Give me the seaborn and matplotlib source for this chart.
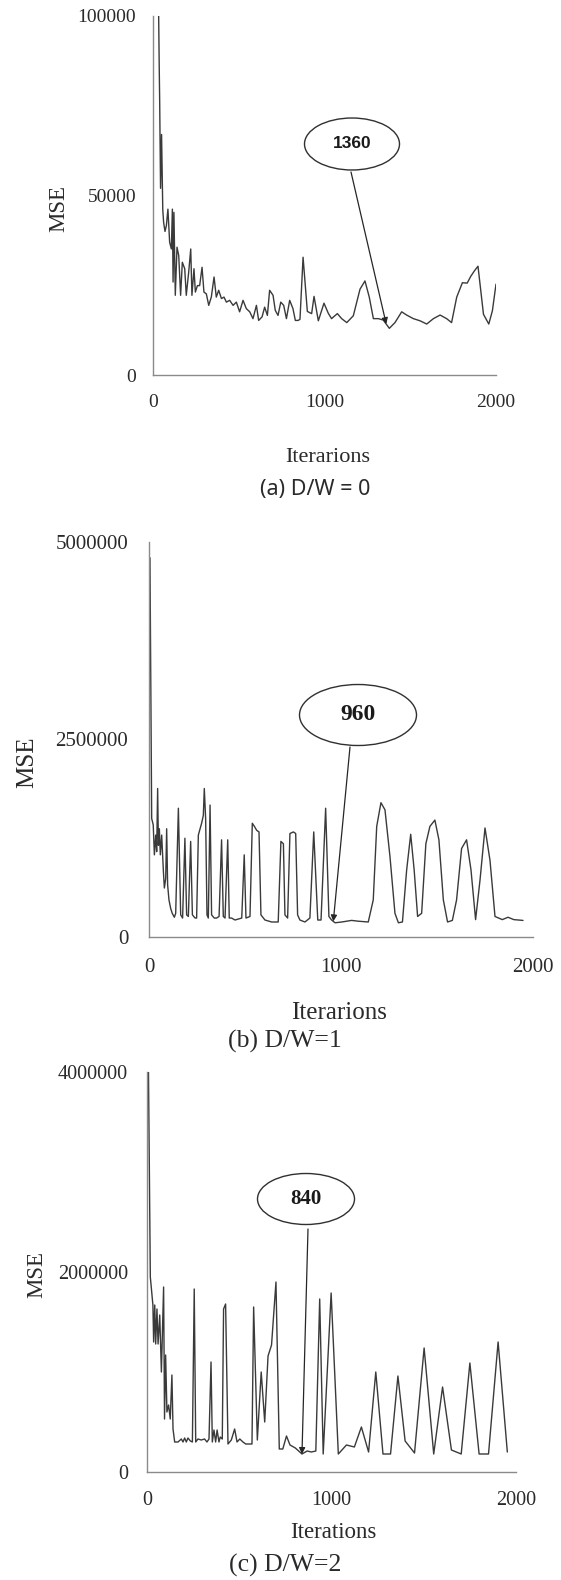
import numpy as np
import pandas as pd
import matplotlib
matplotlib.use("Agg")
import matplotlib.pyplot as plt
from matplotlib.patches import Ellipse
import seaborn as sns

# ---------------- data ----------------
a_iter = [33, 36, 39, 44, 50, 57, 62, 70, 78, 87, 97, 107, 113, 117, 122, 130, 140, 150, 161, 171,
          185, 194, 208, 220, 227, 239, 247, 259, 272, 286, 297, 311, 325, 340, 356, 369, 383, 399, 414, 428,
          447, 467, 486, 505, 525, 544, 564, 583, 603, 616, 636, 651, 667, 680, 700, 713, 729, 745, 762, 778,
          797, 816, 830, 846, 857, 875, 900, 925, 939, 964, 997, 1022, 1041, 1075, 1100, 1130, 1168, 1207, 1236, 1261,
          1285, 1314, 1343, 1378, 1411, 1450, 1479, 1518, 1557, 1596, 1635, 1674, 1712, 1741, 1771, 1804, 1832, 1853, 1874, 1895,
          1927, 1958, 1979, 2000]
a_mse = [100000, 87000, 76000, 52000, 67000, 46000, 42500, 40000, 41600, 46200, 37000, 35100, 46200, 25900, 45300, 22200, 35600, 33300, 22200, 31400,
         29600, 22200, 28600, 35100, 22200, 29600, 23100, 24900, 24900, 30000, 23100, 22600, 19400, 21700, 27300, 21700, 23600, 21300, 21700, 20300,
         20800, 19400, 20300, 17600, 20800, 18500, 17600, 15700, 19400, 15200, 16200, 18900, 16600, 23600, 22200, 18000, 16600, 20300, 19400, 15700,
         20800, 18500, 15200, 15200, 15500, 32800, 17700, 17100, 21900, 15100, 20000, 17200, 15700, 17100, 15700, 14600, 16500, 23900, 26200, 21700,
         15700, 15700, 15300, 13000, 14600, 17600, 16700, 15700, 15100, 14200, 15700, 16700, 15700, 14600, 21700, 25700, 25600, 27500, 29000, 30300,
         16900, 14200, 17900, 25300]

b_iter = [5, 14, 22, 28, 35, 40, 45, 49, 54, 59, 66, 75, 80, 87, 92, 97, 104, 113, 121, 132,
          139, 153, 165, 175, 187, 196, 205, 217, 226, 240, 248, 257, 266, 274, 283, 288, 295, 302, 309, 318,
          326, 340, 352, 365, 378, 387, 396, 410, 418, 430, 448, 483, 496, 505, 526, 538, 549, 561, 573, 583,
          604, 639, 673, 687, 700, 708, 722, 734, 752, 764, 774, 786, 812, 838, 858, 879, 896, 920, 937, 951,
          969, 1004, 1055, 1090, 1142, 1168, 1186, 1208, 1229, 1255, 1281, 1299, 1320, 1342, 1363, 1381, 1399, 1420, 1442, 1463,
          1489, 1510, 1533, 1555, 1580, 1602, 1628, 1654, 1677, 1701, 1724, 1750, 1776, 1802, 1840, 1870, 1900, 1948]
b_mse = [4800000, 1500000, 1420000, 1040000, 1290000, 1080000, 1880000, 1160000, 1370000, 1040000,
         1290000, 830000, 620000, 740000, 1370000, 660000, 470000, 360000, 300000, 250000,
         300000, 1630000, 280000, 240000, 1250000, 280000, 260000, 1210000, 280000, 240000,
         240000, 1290000, 1370000, 1440000, 1540000, 1880000, 1500000, 280000, 240000, 1670000,
         280000, 240000, 240000, 260000, 1230000, 260000, 240000, 1230000, 240000, 240000,
         215000, 240000, 1040000, 240000, 260000, 1440000, 1400000, 1350000, 1330000, 280000,
         215000, 190000, 190000, 1210000, 1180000, 280000, 240000, 1310000, 1330000, 1310000,
         280000, 215000, 190000, 240000, 1330000, 215000, 215000, 1630000, 260000, 215000,
         180000, 190000, 210000, 200000, 190000, 470000, 1400000, 1700000, 1610000, 1020000,
         300000, 180000, 190000, 850000, 1300000, 850000, 260000, 300000, 1180000, 1400000,
         1480000, 1230000, 470000, 190000, 210000, 470000, 1120000, 1230000, 850000, 220000,
         720000, 1380000, 970000, 260000, 220000, 250000, 220000, 210000]

c_iter = [8, 18, 24, 32, 36, 42, 47, 54, 60, 69, 78, 90, 95, 101, 108, 117, 126, 135, 141, 150,
          168, 186, 195, 204, 213, 222, 235, 246, 256, 264, 276, 294, 312, 325, 336, 347, 354, 363, 372, 380,
          390, 397, 408, 415, 426, 439, 457, 475, 488, 503, 520, 535, 557, 569, 578, 598, 619, 638, 656, 675,
          699, 717, 736, 756, 775, 804, 840, 868, 891, 915, 936, 955, 998, 1037, 1081, 1124, 1162, 1201, 1240, 1279,
          1320, 1360, 1399, 1450, 1502, 1554, 1602, 1650, 1703, 1750, 1800, 1851, 1903, 1953]
c_mse = [4000000, 1950000, 1830000, 1670000, 1300000, 1670000, 1280000, 1630000, 1280000, 1570000,
         1000000, 1850000, 530000, 1170000, 600000, 670000, 530000, 970000, 430000, 300000,
         300000, 330000, 300000, 340000, 300000, 340000, 310000, 300000, 1830000, 300000,
         330000, 320000, 330000, 300000, 330000, 1100000, 300000, 420000, 300000, 420000,
         300000, 350000, 330000, 1630000, 1680000, 280000, 320000, 430000, 300000, 330000,
         300000, 280000, 280000, 280000, 1650000, 320000, 1000000, 500000, 1160000, 1270000,
         1900000, 230000, 230000, 360000, 270000, 240000, 180000, 210000, 200000, 210000,
         1730000, 180000, 1790000, 180000, 270000, 250000, 450000, 200000, 1000000, 180000,
         180000, 960000, 310000, 190000, 1240000, 180000, 850000, 220000, 180000, 1090000,
         180000, 180000, 1300000, 200000]

x_ticks = [0, 1000, 2000]
x_tick_labels = ["0", "1000", "2000"]
a_y_ticks = [0, 50000, 100000]
a_y_tick_labels = ["0", "50000", "100000"]
b_y_ticks = [0, 2500000, 5000000]
b_y_tick_labels = ["0", "2500000", "5000000"]
c_y_ticks = [0, 2000000, 4000000]
c_y_tick_labels = ["0", "2000000", "4000000"]

x_labels = ["Iterarions", "Iterarions", "Iterations"]
captions = ["(a) D/W = 0", "(b) D/W=1", "(c) D/W=2"]
best_iters = [1360, 960, 840]

# ---------------- style ----------------
W, H = 561, 1580
sns.set_theme(style="white")
plt.rcParams['font.family'] = ['Liberation Serif', 'DejaVu Serif']
LINE = "#3a3a3a"
SPINE = "#8a8a8a"
TEXT = "#2a2a2a"

fig = plt.figure(figsize=(W / 100, H / 100), dpi=100)
fig.patch.set_facecolor("white")

panels = [
    dict(it=a_iter, mse=a_mse, yt=a_y_ticks, ytl=a_y_tick_labels, box=(153, 16, 496, 375),
         tick_fs=14, xpad=13.5, ypad=12, xl=(328, 458), xl_fs=16, yl=(59, 208), yl_fs=16.5,
         cap=(315, 489), cap_fs=15.5, cap_family=['Noto Sans', 'DejaVu Sans'],
         ell=(352, 144, 95, 52), ell_fs=12.5, ell_family=['Liberation Sans', 'DejaVu Sans'], arr=(351, 172)),
    dict(it=b_iter, mse=b_mse, yt=b_y_ticks, ytl=b_y_tick_labels, box=(149, 542, 533, 937),
         tick_fs=15, xpad=15, ypad=15, xl=(339, 1013), xl_fs=18, yl=(27, 762), yl_fs=18,
         cap=(285, 1041), cap_fs=18.5, cap_family=['Liberation Serif', 'DejaVu Serif'],
         ell=(358, 715, 117, 61), ell_fs=17, ell_family=['Liberation Serif', 'DejaVu Serif'], arr=(350, 747)),
    dict(it=c_iter, mse=c_mse, yt=c_y_ticks, ytl=c_y_tick_labels, box=(147, 1072, 516, 1472),
         tick_fs=14.5, xpad=14, ypad=13.5, xl=(333, 1533), xl_fs=16.5, yl=(37, 1275), yl_fs=16.5,
         cap=(285, 1565), cap_fs=18.5, cap_family=['Liberation Serif', 'DejaVu Serif'],
         ell=(306, 1199, 97, 51), ell_fs=15, ell_family=['Liberation Serif', 'DejaVu Serif'], arr=(308, 1229)),
]

for i, p in enumerate(panels):
    left, top, right, bottom = p['box']
    ax = fig.add_axes([left / W, 1 - bottom / H, (right - left) / W, (bottom - top) / H])
    ax.set_facecolor("white")
    df = pd.DataFrame({"Iterations": p['it'], "MSE": p['mse']})
    sns.lineplot(data=df, x="Iterations", y="MSE", ax=ax, color=LINE, lw=1.0,
                 estimator=None, sort=False)
    ax.set_xlim(0, 2000)
    ax.set_ylim(0, p['yt'][-1])
    ax.set_xticks(x_ticks)
    ax.set_xticklabels(x_tick_labels)
    ax.set_yticks(p['yt'])
    ax.set_yticklabels(p['ytl'])
    for s in ["top", "right"]:
        ax.spines[s].set_visible(False)
    for s in ["left", "bottom"]:
        ax.spines[s].set_color(SPINE)
        ax.spines[s].set_linewidth(1.0)
    ax.tick_params(axis='both', direction='in', length=5, width=0.9, color=SPINE,
                   labelsize=p['tick_fs'], labelcolor=TEXT)
    ax.tick_params(axis='x', pad=p['xpad'])
    ax.tick_params(axis='y', pad=p['ypad'])
    ax.grid(False)

    w, h = right - left, bottom - top
    ax.set_xlabel(x_labels[i], fontsize=p['xl_fs'], color=TEXT, va='center', ha='center')
    ax.xaxis.set_label_coords((p['xl'][0] - left) / w, (bottom - p['xl'][1]) / h)
    ax.set_ylabel("MSE", fontsize=p['yl_fs'], color=TEXT, va='center', ha='center')
    ax.yaxis.set_label_coords((p['yl'][0] - left) / w, (bottom - p['yl'][1]) / h)

    fig.text(p['cap'][0] / W, 1 - p['cap'][1] / H, captions[i], ha='center', va='center',
             fontsize=p['cap_fs'], color=TEXT, family=p['cap_family'])

    cx, cy, ew, eh = p['ell']
    e = Ellipse((cx / W, 1 - cy / H), width=ew / W, height=eh / H, transform=fig.transFigure,
                fill=False, ec="#303030", lw=1.0)
    fig.add_artist(e)
    fig.text(cx / W, 1 - cy / H, str(best_iters[i]), ha='center', va='center',
             fontsize=p['ell_fs'], fontweight='bold', color="#1a1a1a", family=p['ell_family'])

    tip_y = float(np.interp(best_iters[i], p['it'], p['mse']))
    ax.annotate("", xy=(best_iters[i], tip_y), xycoords='data',
                xytext=(p['arr'][0], H - p['arr'][1]), textcoords='figure pixels',
                arrowprops=dict(arrowstyle='-|>', color="#262626", lw=0.9,
                                shrinkA=0, shrinkB=0, mutation_scale=9),
                annotation_clip=False)

fig.savefig("out.png", dpi=100, facecolor="white")
